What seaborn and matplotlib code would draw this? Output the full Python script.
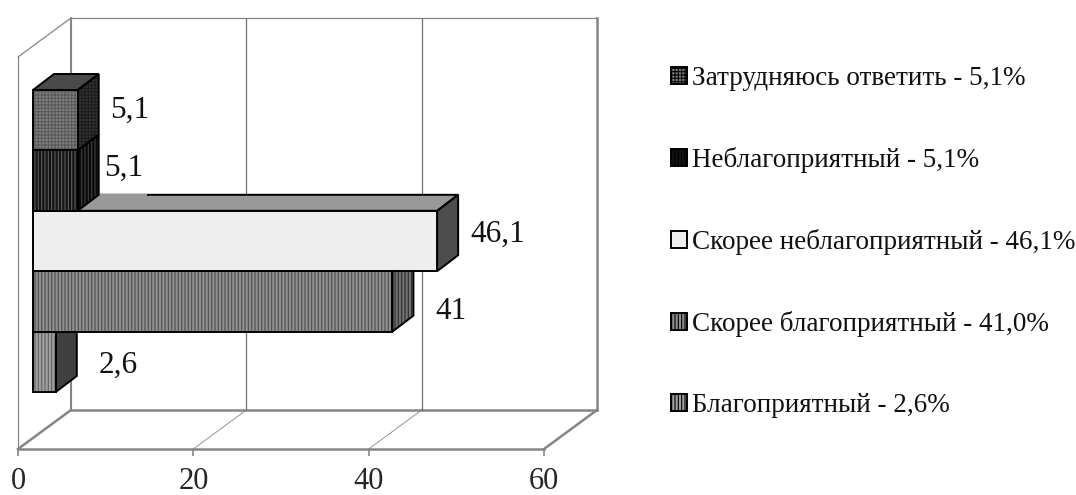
import seaborn as sns
import matplotlib.pyplot as plt
from matplotlib.patches import Patch, Polygon, Rectangle

# data, top bar first
categories = ['Затрудняюсь ответить', 'Неблагоприятный', 'Скорее неблагоприятный',
              'Скорее благоприятный', 'Благоприятный']
values = [5.1, 5.1, 46.1, 41, 2.6]
value_labels = ['5,1', '5,1', '46,1', '41', '2,6']
legend_values = ['5,1%', '5,1%', '46,1%', '41,0%', '2,6%']
x_ticks = [0, 20, 40, 60]

# styles per bar: face, hatch, hatch colour, top face, side face, side hatch
face_colors = ['#808080', '#141414', '#eeeeee', '#8f8f8f', '#a0a0a0']
hatches = ['+++++', '|||||', None, '|||||', '|||||']
hatch_colors = ['#5a5a5a', '#5c5c5c', '#eeeeee', '#505050', '#606060']
top_colors = ['#4a4a4a', '#1a1a1a', '#999999', '#8f8f8f', '#a0a0a0']
side_colors = ['#333333', '#0a0a0a', '#4d4d4d', '#707070', '#404040']
side_hatches = ['+++++', '|||||', None, '|||||', None]
side_hatch_colors = ['#1c1c1c', '#404040', '#4d4d4d', '#303030', '#404040']

# label offsets from bar end/centre, pixels
label_dx = [32, 26, 33, 43, 43]
label_dy = [10, 12, 7, -10, -4]

W, H = 1076, 495
PX_PER_UNIT = 526 / 60
GRAY = '#858585'

sns.set_style('white')
plt.rcParams['font.family'] = ['Liberation Serif', 'DejaVu Serif']
plt.rcParams['hatch.linewidth'] = 0.8

fig = plt.figure(figsize=(W / 100, H / 100), dpi=100)

# front floor axes carries the x scale
ax = fig.add_axes([18 / W, (H - 449) / H, 526 / W, 392 / H])
ax.set_xlim(0, 60)
ax.set_ylim(0, 1)
ax.set_yticks([])
ax.set_xticks(x_ticks)
ax.tick_params(axis='x', bottom=True, length=5, width=1.2, color=GRAY, labelsize=22, pad=8)
ax.patch.set_alpha(0)
for side in ['top', 'right']:
    ax.spines[side].set_visible(False)
ax.spines['bottom'].set_color(GRAY)
ax.spines['bottom'].set_linewidth(1.8)
ax.spines['left'].set_color(GRAY)
ax.spines['left'].set_linewidth(0.9)

# walls and floor of the box
wx = 53 / PX_PER_UNIT
wy = 39 / 392
thick = dict(color=GRAY, lw=1.8, clip_on=False, zorder=1, solid_capstyle='projecting')
thin = dict(color=GRAY, lw=0.9, clip_on=False, zorder=1)
ax.plot([0, wx], [0, wy], **thick)
ax.plot([60, 60 + wx], [0, wy], **thick)
ax.plot([wx, 60 + wx], [wy, wy], **thick)
ax.plot([60 + wx, 60 + wx], [wy, 1 + wy], **thick)
ax.plot([wx, wx], [wy, 1 + wy], **{**thin, 'lw': 1.5})
ax.plot([0, wx], [1, 1 + wy], **thin)
ax.plot([wx, 60 + wx], [1 + wy, 1 + wy], **thin)
for t in x_ticks[1:-1]:
    ax.plot([t, t + wx], [0, wy], color=GRAY, lw=0.6, clip_on=False, zorder=1)
    ax.plot([t + wx, t + wx], [wy, 1 + wy], color='#707070', lw=0.9, clip_on=False, zorder=1)

# bars sit in their own plane, shifted into the box
ax_bars = fig.add_axes([33 / W, (H - 392) / H, 526 / W, 302 / H])
sns.barplot(x=values, y=categories, ax=ax_bars, orient='h', width=1, color='gray')
ax_bars.set_xlim(0, 60)
ax_bars.set_ylim(4.5, -0.5)
ax_bars.axis('off')

dx = 21 / PX_PER_UNIT
dy = -16 / (302 / 5)


def outline(pts, z):
    ax_bars.add_patch(Polygon(pts, fill=False, ec='black', lw=1.4, zorder=z, clip_on=False,
                              joinstyle='miter'))


def depth_face(pts, fc, hatch, hc, z):
    ax_bars.add_patch(Polygon(pts, fc=fc, ec=hc, lw=0, hatch=hatch, zorder=z, clip_on=False))
    outline(pts, z + 0.1)


for i, bar in enumerate(list(ax_bars.patches)):
    z = 10 + 2 * (len(values) - i)  # lower bars first, upper ones over them
    x0, x1 = bar.get_x(), bar.get_x() + bar.get_width()
    y0, y1 = bar.get_y(), bar.get_y() + bar.get_height()
    depth_face([(x0, y0), (x1, y0), (x1 + dx, y0 + dy), (x0 + dx, y0 + dy)],
               top_colors[i], None, top_colors[i], z)
    depth_face([(x1, y0), (x1, y1), (x1 + dx, y1 + dy), (x1 + dx, y0 + dy)],
               side_colors[i], side_hatches[i], side_hatch_colors[i], z)
    bar.set_facecolor(face_colors[i])
    bar.set_edgecolor(hatch_colors[i])
    bar.set_hatch(hatches[i])
    bar.set_linewidth(0)
    bar.set_zorder(z + 0.5)
    bar.set_clip_on(False)
    ax_bars.add_patch(Rectangle((x0, y0), x1 - x0, y1 - y0, fill=False, ec='black', lw=1.4,
                                zorder=z + 0.6, clip_on=False))
    ax_bars.annotate(value_labels[i], xy=(x1, (y0 + y1) / 2),
                     xytext=(label_dx[i] * 0.72, label_dy[i] * 0.72),
                     textcoords='offset points', ha='left', va='center',
                     fontsize=22.5, color='#111111', zorder=40, annotation_clip=False)

# the back edge of the long bar's top fades to gray near the short bars
white_bar = ax_bars.patches[2]
ax_bars.plot([white_bar.get_x() + dx, 13], [white_bar.get_y() + dy] * 2, color='#999999', lw=1.6,
             zorder=16.5, clip_on=False, solid_capstyle='butt')

handles = [Patch(fc=face_colors[i], ec='black', hatch=hatches[i], lw=1.4) for i in range(len(values))]
labels = [f'{c} - {v}' for c, v in zip(categories, legend_values)]
fig.legend(handles, labels, loc='upper left', bbox_to_anchor=(671 / W, 1 - 66 / H),
           frameon=False, fontsize=19.5, labelcolor='#111111',
           handlelength=0.58, handleheight=0.58, handletextpad=0.2, labelspacing=2.07,
           borderpad=0, borderaxespad=0)

plt.savefig('out.png', dpi=100)
plt.close()
